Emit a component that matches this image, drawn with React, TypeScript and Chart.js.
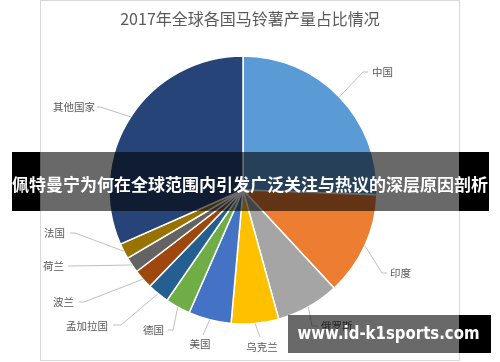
import React, { useEffect, useRef } from "react";
import { Chart, registerables } from "chart.js";

Chart.register(...registerables);

const chartTitle = "2017年全球各国马铃薯产量占比情况";
const countries = ["中国", "印度", "俄罗斯", "乌克兰", "美国", "德国", "孟加拉国", "波兰", "荷兰", "法国", "其他国家"];
const production = [99.21, 48.61, 29.59, 22.21, 20.02, 11.72, 10.22, 9.17, 7.39, 7.34, 122.71];
const sliceColors = ["#5B9BD5", "#ED7D31", "#A5A5A5", "#FFC000", "#4472C4", "#70AD47", "#255E91", "#9E480E", "#636363", "#997300", "#264478"];
const bannerText = "佩特曼宁为何在全球范围内引发广泛关注与热议的深层原因剖析";
const watermarkText = "www.id-k1sports.com";

// label layout: elbow point, end of horizontal tick, text anchor, alignment
const labelLayout = [
  { ex: 363, ey: 72, hx: 368, tx: 372, ty: 72, align: "left" },
  { ex: 382, ey: 273, hx: 387, tx: 390, ty: 273, align: "left" },
  { ex: 312, ey: 326, hx: 318, tx: 321, ty: 326, align: "left" },
  { ex: 260, ey: 337, hx: 260, tx: 262, ty: 347, align: "center" },
  { ex: 203, ey: 335, hx: 203, tx: 200, ty: 344, align: "center" },
  { ex: 173, ey: 330, hx: 168, tx: 164, ty: 330, align: "right" },
  { ex: 121, ey: 325, hx: 113, tx: 108, ty: 326, align: "right" },
  { ex: 84, ey: 302, hx: 79, tx: 74, ty: 302, align: "right" },
  { ex: 72, ey: 266, hx: 68, tx: 64, ty: 266, align: "right" },
  { ex: 75, ey: 233, hx: 70, tx: 65, ty: 233, align: "right" },
  { ex: 100, ey: 107, hx: 97, tx: 95, ty: 107, align: "right" },
];

const CJK = '"Noto Sans CJK SC", "Noto Sans", sans-serif';

const decorPlugin = {
  id: "decor",
  beforeDraw(chart: any) {
    const ctx = chart.ctx;
    ctx.save();
    ctx.fillStyle = "#ffffff";
    ctx.fillRect(0, 0, chart.width, chart.height);
    ctx.strokeStyle = "#d9d9d9";
    ctx.lineWidth = 1;
    ctx.strokeRect(40.5, 0.5, 419, 360);
    ctx.fillStyle = "#595959";
    ctx.font = `16px ${CJK}`;
    ctx.textAlign = "center";
    ctx.textBaseline = "middle";
    ctx.fillText(chartTitle, 250, 19);
    ctx.restore();
  },
  afterDraw(chart: any) {
    const ctx = chart.ctx;
    const meta = chart.getDatasetMeta(0);
    ctx.save();
    // leader lines & labels
    ctx.font = `10.5px ${CJK}`;
    ctx.textBaseline = "middle";
    meta.data.forEach((arc: any, i: number) => {
      const p = arc.getProps(["x", "y", "startAngle", "endAngle", "outerRadius"], true);
      const mid = (p.startAngle + p.endAngle) / 2;
      const ax = p.x + Math.cos(mid) * p.outerRadius;
      const ay = p.y + Math.sin(mid) * p.outerRadius;
      const L = labelLayout[i];
      ctx.strokeStyle = "#bfbfbf";
      ctx.lineWidth = 1;
      ctx.beginPath();
      ctx.moveTo(ax, ay);
      ctx.lineTo(L.ex, L.ey);
      ctx.lineTo(L.hx, L.ey);
      ctx.stroke();
      ctx.fillStyle = "#595959";
      ctx.textAlign = L.align;
      ctx.fillText(countries[i], L.tx, L.ty);
    });
    // banner
    ctx.fillStyle = "#000000";
    ctx.fillRect(12, 152, 28, 59);
    ctx.fillRect(459, 152, 30, 59);
    ctx.fillStyle = "rgba(0,0,0,0.59)";
    ctx.fillRect(40, 152, 419, 59);
    ctx.fillStyle = "#ffffff";
    ctx.font = `bold 17px ${CJK}`;
    ctx.textAlign = "center";
    ctx.textBaseline = "middle";
    ctx.fillText(bannerText, 250, 185, 476);
    // watermark
    ctx.fillStyle = "rgba(0,0,0,0.59)";
    ctx.fillRect(288, 315, 171, 38);
    ctx.fillStyle = "#000000";
    ctx.fillRect(459, 315, 32, 38);
    ctx.fillStyle = "#ffffff";
    ctx.font = `bold 17px "DejaVu Sans", sans-serif`;
    ctx.textAlign = "center";
    ctx.fillText(watermarkText, 388.5, 335, 182);
    ctx.restore();
  },
};

export default function App() {
  const ref = useRef<HTMLCanvasElement | null>(null);
  useEffect(() => {
    if (!ref.current) return;
    const chart = new Chart(ref.current, {
      type: "pie",
      data: {
        labels: countries,
        datasets: [
          {
            data: production,
            backgroundColor: sliceColors,
            borderColor: "#ffffff",
            borderWidth: 1.5,
            hoverOffset: 0,
          },
        ],
      },
      options: {
        responsive: false,
        animation: false,
        radius: 134,
        layout: { padding: { left: 109, right: 123, top: 56, bottom: 38 } },
        plugins: {
          legend: { display: false },
          tooltip: { enabled: false },
          title: { display: false },
        },
      } as any,
      plugins: [decorPlugin],
    });
    return () => chart.destroy();
  }, []);
  return (
    <div style={{ position: "fixed", left: 0, top: 0, width: 500, height: 362, background: "#fff" }}>
      <canvas ref={ref} width={500} height={362} style={{ display: "block", width: 500, height: 362 }} />
    </div>
  );
}
